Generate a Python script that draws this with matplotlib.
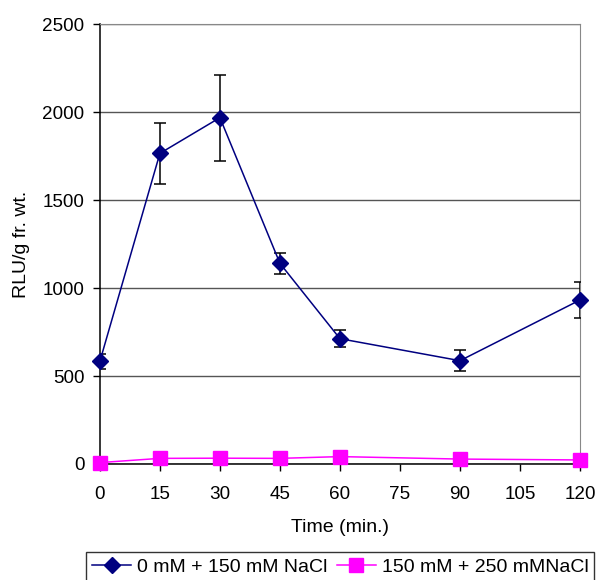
import matplotlib
matplotlib.use('Agg')
import matplotlib.pyplot as plt

plt.rcParams['font.family'] = ['Liberation Sans', 'DejaVu Sans']

# data
time_min = [0, 15, 30, 45, 60, 90, 120]
rlu_150 = [583, 1765, 1968, 1140, 712, 587, 932]
err_150 = [42, 172, 245, 60, 47, 61, 100]
rlu_250 = [8, 32, 33, 32, 42, 28, 23]

x_ticks = [0, 15, 30, 45, 60, 75, 90, 105, 120]
y_ticks = [0, 500, 1000, 1500, 2000, 2500]
labels = ['0 mM + 150 mM NaCl', '150 mM + 250 mMNaCl']

fig = plt.figure(figsize=(5.98, 5.8), dpi=100)
ax = fig.add_axes([0.167, 0.2, 0.803, 0.7586])

ax.errorbar(time_min, rlu_150, yerr=err_150, fmt='none', ecolor='black',
            elinewidth=1.1, capsize=4, capthick=1.1, zorder=3)
l1, = ax.plot(time_min, rlu_150, color='#000080', lw=1.1, marker='D',
              markersize=8, label=labels[0], zorder=4, clip_on=False)
l2, = ax.plot(time_min, rlu_250, color='#FF00FF', lw=1.1, marker='s',
              markersize=9.5, label=labels[1], zorder=4, clip_on=False)

ax.set_xlim(0, 120)
ax.set_ylim(0, 2500)
ax.set_xticks(x_ticks)
ax.set_yticks(y_ticks)
ax.yaxis.grid(True, color='#555555', lw=1)
ax.set_axisbelow(True)

for s in ['top', 'right']:
    ax.spines[s].set_color('#888888')
for s in ['left', 'bottom']:
    ax.spines[s].set_color('black')
    ax.spines[s].set_linewidth(1.1)

ax.tick_params(direction='out', length=5, width=1, labelsize=13.6)
ax.tick_params(axis='x', pad=11)
ax.tick_params(axis='y', pad=6)
ax.set_xlabel('Time (min.)', fontsize=14, labelpad=11)
ax.set_ylabel('RLU/g fr. wt.', fontsize=14, labelpad=9)

leg = fig.legend([l1, l2], labels, loc='upper center',
                 bbox_to_anchor=(0.569, 0.048), borderaxespad=0,
                 ncol=2, fontsize=14, frameon=True, fancybox=False,
                 edgecolor='black', handlelength=2.0, handletextpad=0.3,
                 columnspacing=0.5, borderpad=0.3)
leg.get_frame().set_linewidth(1)

fig.savefig('out.png', dpi=100)
